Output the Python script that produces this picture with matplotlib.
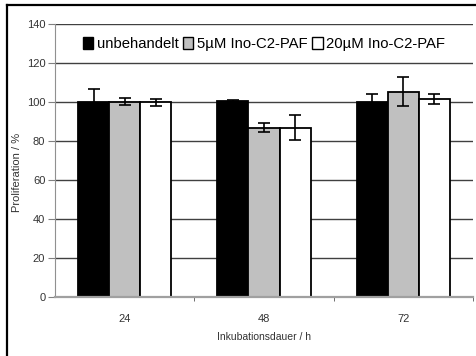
import numpy as np
import matplotlib
matplotlib.use("Agg")
from matplotlib import pyplot as plt
from matplotlib.lines import Line2D

plt.rcParams['font.family'] = ['Liberation Sans', 'DejaVu Sans']

# Proliferation data (% of untreated) per incubation time
zeiten = ['24', '48', '72']
serien = ['unbehandelt', '5µM Ino-C2-PAF', '20µM Ino-C2-PAF']
unbehandelt = [100.2, 100.5, 100.2]
unbehandelt_err = [6.3, 0.4, 3.8]
ino_5 = [100.2, 86.9, 105.3]
ino_5_err = [1.8, 2.4, 7.5]
ino_20 = [99.8, 86.9, 101.7]
ino_20_err = [1.9, 6.2, 2.5]
yticks = [0, 20, 40, 60, 80, 100, 120, 140]

W, H = 477, 356
fig = plt.figure(figsize=(W / 100, H / 100), dpi=100)
ax = fig.add_axes([55 / W, 1 - 297 / H, 418 / W, 273 / H])

x = np.arange(len(zeiten)) + 0.5
bw = 0.223
farben = ['black', '#c0c0c0', 'white']
werte = [unbehandelt, ino_5, ino_20]
fehler = [unbehandelt_err, ino_5_err, ino_20_err]

for i, (vals, errs, col, name) in enumerate(zip(werte, fehler, farben, serien)):
    pos = x + (i - 1) * bw
    ax.bar(pos, vals, width=bw, color=col, edgecolor='black', linewidth=1.3,
           label=name, zorder=3)
    ax.errorbar(pos, vals, yerr=errs, fmt='none', ecolor='black',
                elinewidth=1.2, capsize=4.5, capthick=1.2, zorder=4)

ax.set_xlim(0, 3)
ax.set_ylim(0, 140)
ax.set_yticks(yticks)
ax.yaxis.grid(True, color='#404040', linewidth=1)
ax.set_axisbelow(True)

ax.set_xticks(x)
ax.set_xticklabels(zeiten)
ax.set_xticks([1, 2, 3], minor=True)
ax.tick_params(axis='x', which='major', length=0, pad=12, labelsize=8,
               labelcolor='#333333')
ax.tick_params(axis='x', which='minor', length=3, color='#555555')
ax.tick_params(axis='y', length=5, color='#808080', labelsize=8,
               labelcolor='#333333', pad=2)

for s in ['top', 'right']:
    ax.spines[s].set_visible(False)
ax.spines['left'].set_color('#909090')
ax.spines['bottom'].set_color('#a0a0a0')
ax.spines['bottom'].set_linewidth(1.6)
ax.spines['bottom'].set_zorder(5)

ax.set_xlabel('Inkubationsdauer / h', fontsize=7.5, color='#333333', labelpad=6)
fig.text(17 / W, 1 - 172 / H, 'Proliferation / %', rotation=90, fontsize=8,
         color='#333333', ha='center', va='center')

leg = ax.legend(loc='center', bbox_to_anchor=(0.5, (297 - 44) / 273), ncol=3,
                frameon=False, fontsize=10.7, handlelength=0.7,
                handleheight=0.93, handletextpad=0.25, columnspacing=0.3,
                borderaxespad=0)
for p in leg.get_patches():
    p.set_linewidth(1)

# outer frame (left and top edges)
fig.add_artist(Line2D([7 / W, 7 / W], [0, 1 - 5 / H], color='black',
                      linewidth=1.6, transform=fig.transFigure))
fig.add_artist(Line2D([7 / W, 1], [1 - 5 / H, 1 - 5 / H], color='black',
                      linewidth=1.6, transform=fig.transFigure))

fig.savefig('out.png', dpi=100)
